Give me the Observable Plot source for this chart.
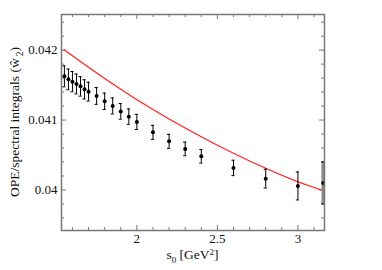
<!DOCTYPE html>
<html>
<head>
<meta charset="utf-8">
<script src="https://cdn.jsdelivr.net/npm/d3@7"></script>
<script src="https://cdn.jsdelivr.net/npm/@observablehq/plot@0.6"></script>
<style>
  html, body { margin: 0; padding: 0; background: #fff; }
  #chart svg { display: block; }
</style>
</head>
<body>
<div id="chart"></div>
<script>
// Data points (s0, ratio, error)
const sValues = [1.55, 1.575, 1.6, 1.625, 1.65, 1.675, 1.7, 1.75, 1.8, 1.85, 1.9, 1.95, 2.0, 2.1, 2.2, 2.3, 2.4, 2.6, 2.8, 3.0, 3.157];
const ratioValues = [0.041625, 0.041582, 0.041549, 0.041516, 0.041482, 0.041439, 0.041406, 0.041345, 0.041268, 0.041202, 0.041124, 0.041049, 0.040973, 0.040824, 0.040695, 0.040587, 0.040481, 0.040315, 0.040162, 0.040057, 0.040100];
const errValues = [0.00015, 0.000148, 0.000145, 0.000142, 0.00014, 0.000137, 0.000135, 0.00012, 0.000118, 0.000115, 0.000112, 0.00011, 0.000108, 0.0001, 0.0001, 0.000097, 0.000097, 0.00011, 0.000135, 0.0002, 0.0003];

// Red curve
const curveS = [1.547, 1.6, 1.7, 1.8, 1.9, 2.0, 2.1, 2.2, 2.3, 2.4, 2.5, 2.6, 2.7, 2.8, 2.9, 3.0, 3.1, 3.157];
const curveValues = [0.042005, 0.041920, 0.041755, 0.041595, 0.041440, 0.041292, 0.041150, 0.041015, 0.040885, 0.040760, 0.040640, 0.040525, 0.040415, 0.040310, 0.040210, 0.040115, 0.040035, 0.039990];

// Ticks
const xMajor = [2, 2.5, 3];
const xMinor = [1.6, 1.7, 1.8, 1.9, 2.1, 2.2, 2.3, 2.4, 2.6, 2.7, 2.8, 2.9, 3.1];
const yMajor = [0.04, 0.041, 0.042];
const yMinor = [0.0396, 0.0398, 0.0402, 0.0404, 0.0406, 0.0408, 0.0412, 0.0414, 0.0416, 0.0418, 0.0422, 0.0424];

const xDomain = [1.532, 3.165];
const yDomain = [0.03942, 0.04251];

const points = sValues.map((s, i) => ({s, v: ratioValues[i], e: errValues[i]}));
const normalPts = points.slice(0, -1);
const lastPts = points.slice(-1);
const curve = curveS.map((s, i) => ({s, v: curveValues[i]}));

const axisColor = "#777";
const X0 = () => xDomain[0], X1 = () => xDomain[1];
const Y0 = () => yDomain[0], Y1 = () => yDomain[1];

const plot = Plot.plot({
  width: 382,
  height: 270,
  marginTop: 14,
  marginRight: 58,
  marginBottom: 40,
  marginLeft: 61,
  style: {fontFamily: "'Liberation Serif', 'Times New Roman', serif", fontSize: "13px", color: "#111", background: "#fff"},
  x: {domain: xDomain, ticks: xMajor, tickSize: 0, tickPadding: 3, label: null, tickFormat: d => String(d)},
  y: {domain: yDomain, ticks: yMajor, tickSize: 0, tickPadding: 4, label: null, tickFormat: d => String(d)},
  marks: [
    // tick marks (inward) on all four sides
    Plot.ruleX(xMajor, {x: d => d, y1: Y0, y2: Y0, insetTop: -5, stroke: axisColor}),
    Plot.ruleX(xMinor, {x: d => d, y1: Y0, y2: Y0, insetTop: -3, stroke: axisColor}),
    Plot.ruleX(xMajor, {x: d => d, y1: Y1, y2: Y1, insetBottom: -5, stroke: axisColor}),
    Plot.ruleX(xMinor, {x: d => d, y1: Y1, y2: Y1, insetBottom: -3, stroke: axisColor}),
    Plot.ruleY(yMajor, {y: d => d, x1: X0, x2: X0, insetRight: -5, stroke: axisColor}),
    Plot.ruleY(yMinor, {y: d => d, x1: X0, x2: X0, insetRight: -3, stroke: axisColor}),
    Plot.ruleY(yMajor, {y: d => d, x1: X1, x2: X1, insetLeft: -5, stroke: axisColor}),
    Plot.ruleY(yMinor, {y: d => d, x1: X1, x2: X1, insetLeft: -3, stroke: axisColor}),
    // red curve
    Plot.line(curve, {x: "s", y: "v", stroke: "#ff2020", strokeWidth: 1.2}),
    // last point: gray band
    Plot.ruleX(lastPts, {x: "s", y1: d => d.v - d.e, y2: d => d.v + d.e, stroke: "#8a8a8a", strokeWidth: 3.5}),
    // error bars
    Plot.ruleX(normalPts, {x: "s", y1: d => d.v - d.e, y2: d => d.v + d.e, stroke: "#000", strokeWidth: 1}),
    Plot.ruleY(points, {y: d => d.v + d.e, x1: "s", x2: "s", insetLeft: -1.6, insetRight: -1.6, stroke: "#000", strokeWidth: 1}),
    Plot.ruleY(points, {y: d => d.v - d.e, x1: "s", x2: "s", insetLeft: -1.6, insetRight: -1.6, stroke: "#000", strokeWidth: 1}),
    Plot.dot(points, {x: "s", y: "v", r: 2, fill: "#000"}),
    Plot.frame({stroke: axisColor, strokeWidth: 1.5})
  ]
});

document.getElementById("chart").appendChild(plot);

// Axis titles with sub/superscripts
const svg = d3.select(plot);
const fontFam = "'Liberation Serif', 'Times New Roman', serif";
const xl = svg.append("text")
  .attr("x", (61 + 324) / 2).attr("y", 259)
  .attr("text-anchor", "middle")
  .attr("font-family", fontFam).attr("font-size", 13.5).attr("fill", "#111");
xl.append("tspan").text("s");
xl.append("tspan").attr("font-size", 9).attr("dy", 4).text("0");
xl.append("tspan").attr("dy", -4).text(" [GeV");
xl.append("tspan").attr("font-size", 9).attr("dy", -4.5).text("2");
xl.append("tspan").attr("dy", 4.5).text("]");

const yl = svg.append("text")
  .attr("transform", "translate(18.5,122) rotate(-90)")
  .attr("text-anchor", "middle")
  .attr("font-family", fontFam).attr("font-size", 13.5).attr("fill", "#111");
yl.append("tspan").text("OPE/spectral integrals (ŵ");
yl.append("tspan").attr("font-size", 9.5).attr("dy", 4).attr("dx", 2).text("2");
yl.append("tspan").attr("dy", -4).text(")");
</script>
</body>
</html>
